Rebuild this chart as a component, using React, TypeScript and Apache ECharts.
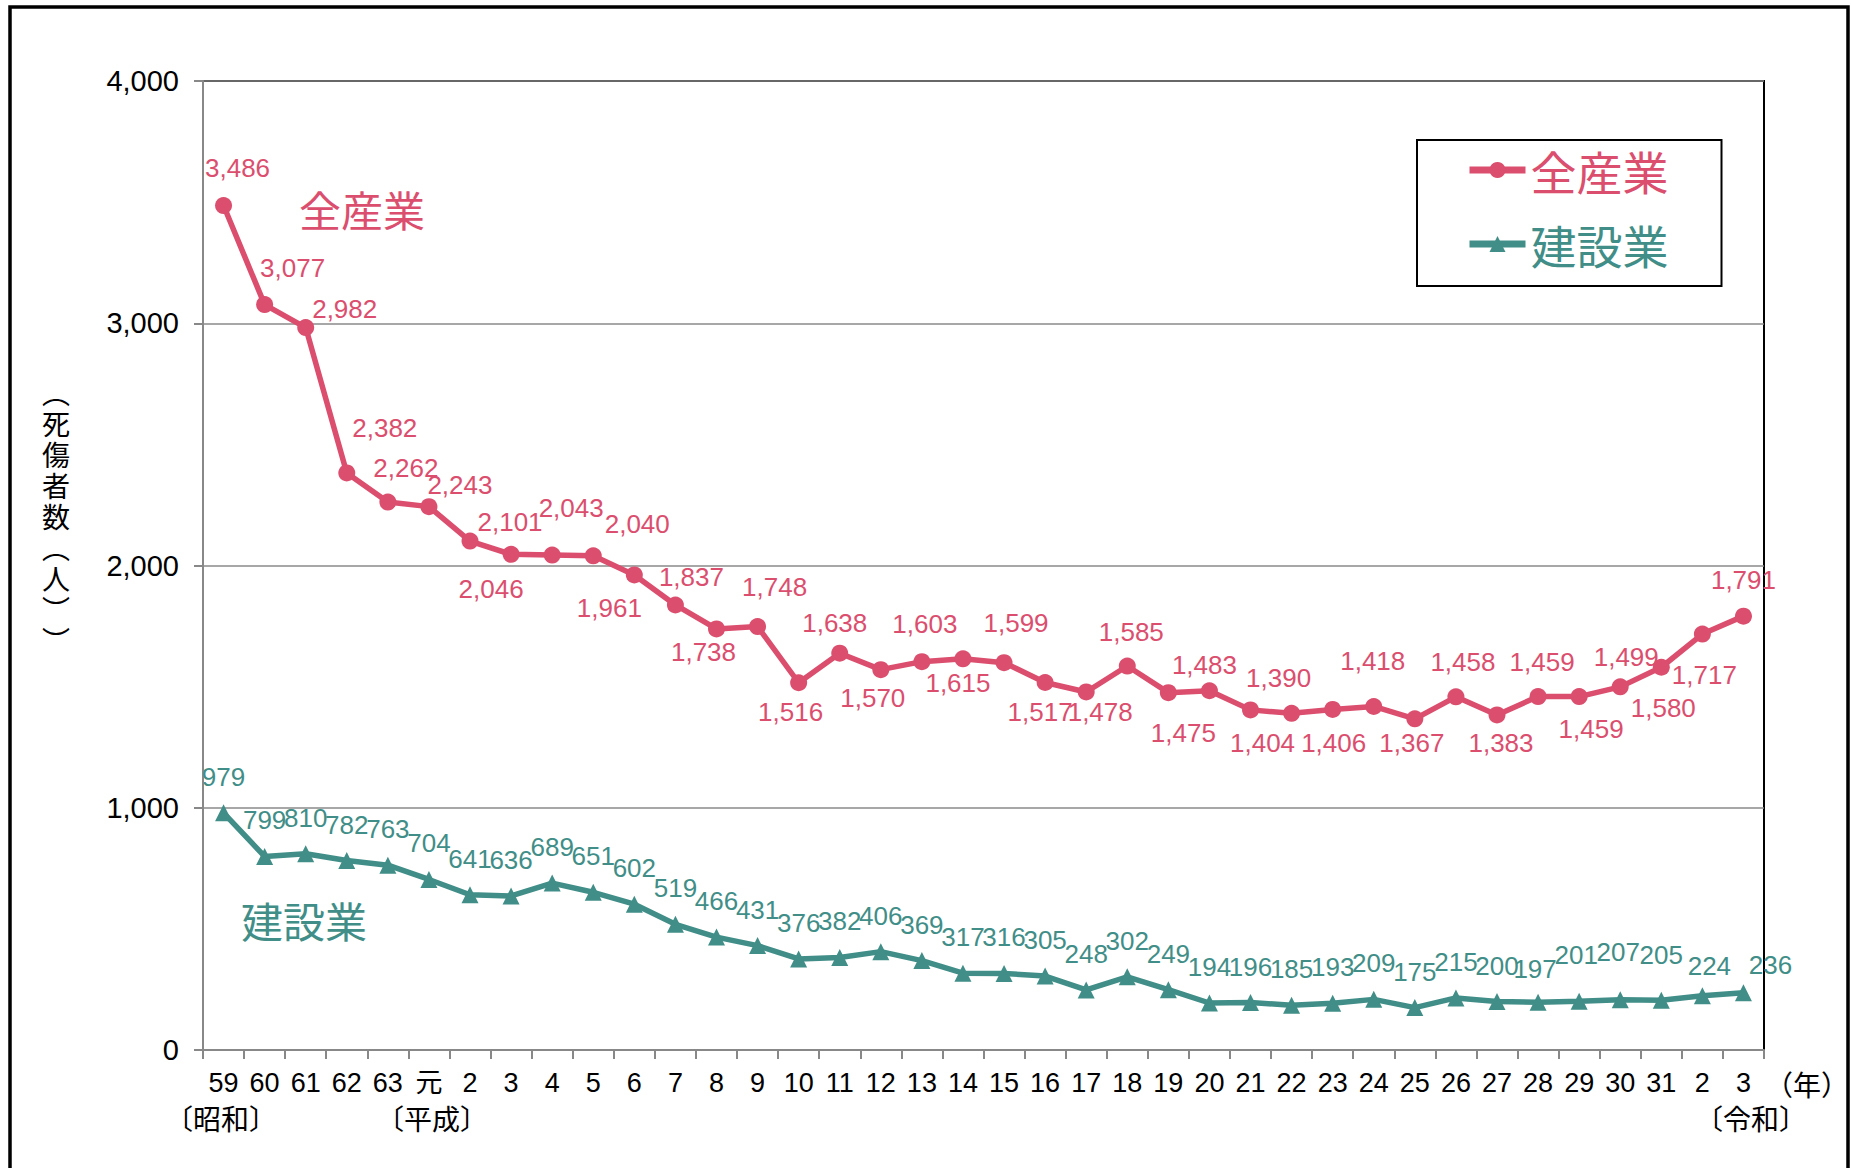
import React, { useEffect, useRef } from "react";
import * as echarts from "echarts";

const categories = [
  "59", "60", "61", "62", "63", "元", "2", "3", "4", "5", "6", "7", "8", "9", "10",
  "11", "12", "13", "14", "15", "16", "17", "18", "19", "20", "21", "22", "23", "24",
  "25", "26", "27", "28", "29", "30", "31", "2", "3",
];

const allIndustry = [
  3486, 3077, 2982, 2382, 2262, 2243, 2101, 2046, 2043, 2040, 1961, 1837, 1738, 1748,
  1516, 1638, 1570, 1603, 1615, 1599, 1517, 1478, 1585, 1475, 1483, 1404, 1390, 1406,
  1418, 1367, 1458, 1383, 1459, 1459, 1499, 1580, 1717, 1791,
];

const construction = [
  979, 799, 810, 782, 763, 704, 641, 636, 689, 651, 602, 519, 466, 431, 376, 382, 406,
  369, 317, 316, 305, 248, 302, 249, 194, 196, 185, 193, 209, 175, 215, 200, 197, 201,
  207, 205, 224, 236,
];

const yTicks = [0, 1000, 2000, 3000, 4000];

// label placement (offset from the marker centre), styling only
const allLabelShift: number[][] = [
  [14, -38], [28, -37], [39, -19], [38, -45], [18, -34], [31, -22], [40, -19], [-20, 35],
  [19, -47], [44, -32], [-25, 33], [16, -28], [-13, 23], [17, -40], [-8, 29], [-5, -30],
  [-8, 28], [3, -38], [-5, 24], [12, -40], [-5, 29], [14, 20], [4, -34], [15, 40],
  [-5, -26], [12, 33], [-13, -35], [1, 34], [-1, -45], [-3, 24], [7, -35], [4, 28],
  [4, -35], [12, 32], [6, -30], [2, 41], [2, 41], [0, -36],
];
const constructionLabelShift: Record<number, number[]> = {
  32: [-3, -33], 33: [-3, -46], 34: [-2, -48], 35: [0, -45], 36: [7, -30], 37: [27, -28],
};

const PINK = "#DB4E6E";
const TEAL = "#408E87";
const NUM_FONT = '"Liberation Sans Narrow", "Arial Narrow", "Liberation Sans", "Noto Sans CJK JP", sans-serif';
const CJK_FONT = '"Noto Sans CJK JP", "Noto Sans", sans-serif';

const fmt = (v: number) => v.toLocaleString("en-US");

export default function App() {
  const ref = useRef<HTMLDivElement>(null);

  useEffect(() => {
    if (!ref.current) return;
    const chart = echarts.init(ref.current, undefined, { renderer: "svg" });

    const mkData = (vals: number[], shift: (i: number) => number[]) =>
      vals.map((v, i) => ({
        value: v,
        label: { offset: shift(i) },
      }));

    chart.setOption({
      animation: false,
      backgroundColor: "#fff",
      grid: {
        left: 203,
        right: 87,
        top: 81,
        bottom: 118,
        show: true,
        borderColor: "#000",
        borderWidth: 2,
        backgroundColor: "transparent",
      },
      legend: {
        orient: "vertical",
        left: 1417,
        top: 140,
        padding: [4, 53, 16, 49],
        itemWidth: 56,
        itemHeight: 20,
        itemGap: 22,
        borderColor: "#000",
        borderWidth: 2,
        lineStyle: { width: 7 },
        textStyle: { fontSize: 46, lineHeight: 52, fontFamily: CJK_FONT },
        data: [
          { name: "全産業", textStyle: { color: PINK } },
          { name: "建設業", textStyle: { color: TEAL } },
        ],
      },
      xAxis: {
        type: "category",
        data: categories,
        axisLine: { show: true, lineStyle: { color: "#888", width: 2 } },
        axisTick: { show: true, interval: 0, length: 9, lineStyle: { color: "#888", width: 2 } },
        axisLabel: {
          interval: 0,
          margin: 19,
          color: "#000",
          fontSize: 27,
          fontFamily: NUM_FONT,
        },
        splitLine: { show: false },
      },
      yAxis: {
        type: "value",
        min: yTicks[0],
        max: yTicks[yTicks.length - 1],
        interval: 1000,
        axisLine: { show: true, lineStyle: { color: "#888", width: 2 } },
        axisTick: { show: true, length: 9, lineStyle: { color: "#888", width: 2 } },
        axisLabel: {
          margin: 24,
          color: "#000",
          fontSize: 29,
          fontFamily: NUM_FONT,
          formatter: (v: number) => fmt(v),
        },
        splitLine: { show: true, lineStyle: { color: "#8a8a8a", width: 1.5 } },
      },
      series: [
        {
          name: "全産業",
          type: "line",
          data: mkData(allIndustry, (i) => allLabelShift[i]),
          color: PINK,
          symbol: "circle",
          symbolSize: 17,
          lineStyle: { width: 5.5, color: PINK },
          itemStyle: { color: PINK },
          label: {
            show: true,
            position: "inside",
            color: PINK,
            fontSize: 26,
            fontFamily: NUM_FONT,
            formatter: (p: any) => fmt(p.value),
          },
          z: 3,
        },
        {
          name: "建設業",
          type: "line",
          data: mkData(construction, (i) => constructionLabelShift[i] ?? [0, -36]),
          color: TEAL,
          symbol: "triangle",
          symbolSize: 17,
          lineStyle: { width: 5.5, color: TEAL },
          itemStyle: { color: TEAL },
          label: {
            show: true,
            position: "inside",
            color: TEAL,
            fontSize: 26,
            fontFamily: NUM_FONT,
            formatter: (p: any) => fmt(p.value),
          },
          z: 3,
        },
      ],
      graphic: [
        {
          type: "rect",
          silent: true,
          z: -1,
          shape: { x: 10, y: 7, width: 1838, height: 1200 },
          style: { fill: "none", stroke: "#000", lineWidth: 3.5 },
        },
        {
          type: "text",
          silent: true,
          style: {
            text: "︵\n死\n傷\n者\n数\n︵\n人\n︶\n︶",
            x: 56,
            y: 516,
            align: "center",
            verticalAlign: "middle",
            fontSize: 28,
            lineHeight: 31,
            fontFamily: CJK_FONT,
            fill: "#000",
          },
        },
        {
          type: "text",
          silent: true,
          style: { text: "〔昭和〕", x: 221, y: 1118, align: "center", verticalAlign: "middle", fontSize: 28, fontFamily: CJK_FONT, fill: "#000" },
        },
        {
          type: "text",
          silent: true,
          style: { text: "〔平成〕", x: 432, y: 1118, align: "center", verticalAlign: "middle", fontSize: 28, fontFamily: CJK_FONT, fill: "#000" },
        },
        {
          type: "text",
          silent: true,
          style: { text: "〔令和〕", x: 1751, y: 1118, align: "center", verticalAlign: "middle", fontSize: 28, fontFamily: CJK_FONT, fill: "#000" },
        },
        {
          type: "text",
          silent: true,
          style: { text: "（年）", x: 1807, y: 1084, align: "center", verticalAlign: "middle", fontSize: 28, fontFamily: CJK_FONT, fill: "#000" },
        },
        {
          type: "text",
          silent: true,
          style: { text: "全産業", x: 362, y: 208, align: "center", verticalAlign: "middle", fontSize: 42, fontFamily: CJK_FONT, fill: PINK },
        },
        {
          type: "text",
          silent: true,
          style: { text: "建設業", x: 304, y: 919, align: "center", verticalAlign: "middle", fontSize: 42, fontFamily: CJK_FONT, fill: TEAL },
        },
      ],
    });

    return () => chart.dispose();
  }, []);

  return (
    <div
      ref={ref}
      style={{ position: "absolute", left: 0, top: 0, width: 1851, height: 1168 }}
    />
  );
}
